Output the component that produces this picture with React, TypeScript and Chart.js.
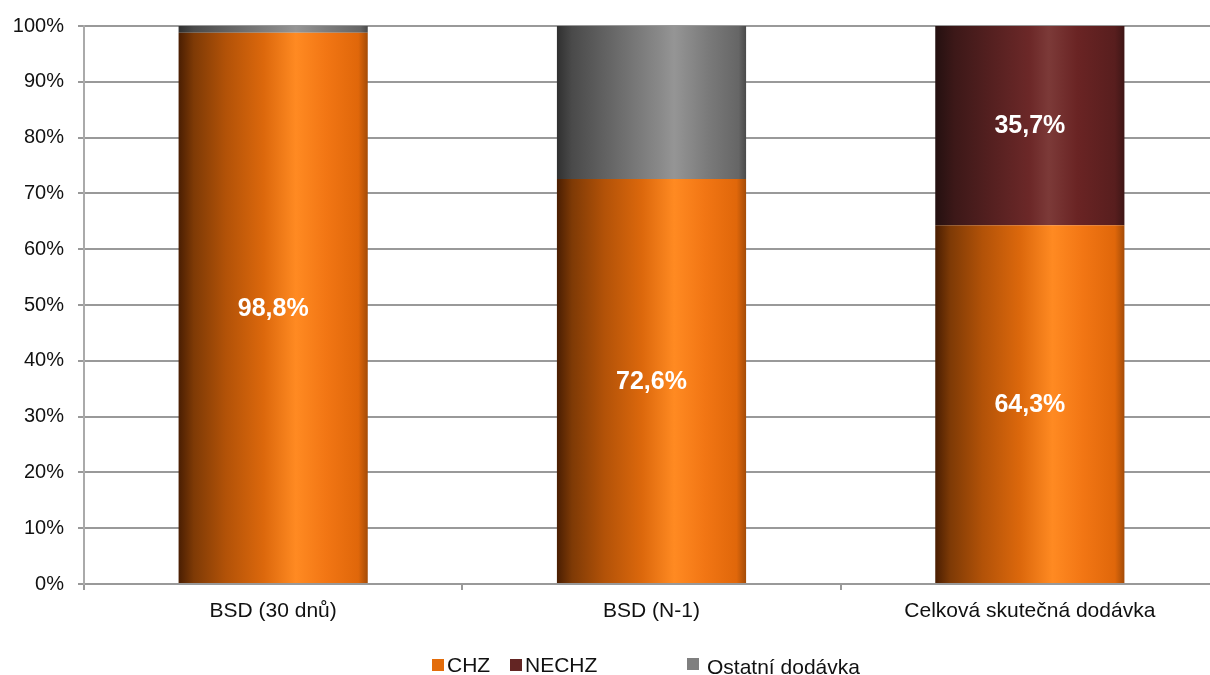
import React, { useEffect, useRef } from "react";
import { Chart, registerables } from "chart.js";

Chart.register(...registerables);

const categories = ["BSD (30 dnů)", "BSD (N-1)", "Celková skutečná dodávka"];
const chzValues = [98.8, 72.6, 64.3];
const nechzValues = [0, 0, 35.7];
const ostatniValues = [1.2, 27.4, 0];
const yTicks = [0, 10, 20, 30, 40, 50, 60, 70, 80, 90, 100];
const seriesNames = ["CHZ", "NECHZ", "Ostatní dodávka"];
const seriesColors = ["#e36c0a", "#632523", "#7f7f7f"];

const FONT = "'Liberation Sans', Arial, sans-serif";

const gradientStops: [number, string][][] = [
  [
    [0, "#4a1e02"],
    [0.08, "#7e3a06"],
    [0.25, "#b25208"],
    [0.45, "#dc680c"],
    [0.62, "#ff8a22"],
    [0.78, "#f27614"],
    [0.95, "#e0670a"],
    [1, "#a44c08"],
  ],
  [
    [0, "#241010"],
    [0.1, "#3c1818"],
    [0.3, "#552020"],
    [0.5, "#6c2828"],
    [0.6, "#7c3a38"],
    [0.75, "#6a2424"],
    [0.95, "#581e1e"],
    [1, "#3e1616"],
  ],
  [
    [0, "#303030"],
    [0.08, "#4a4a4a"],
    [0.3, "#686868"],
    [0.55, "#8a8a8a"],
    [0.62, "#959595"],
    [0.8, "#7a7a7a"],
    [0.96, "#666666"],
    [1, "#4a4a4a"],
  ],
];

const BAR_FRACTION = 0.5;

function makeGradientFill(seriesIndex: number) {
  return (ctx: any) => {
    const chart = ctx.chart;
    const area = chart.chartArea;
    const xs = chart.scales?.x;
    if (!area || !xs || ctx.dataIndex === undefined) return seriesColors[seriesIndex];
    const cx = xs.getPixelForValue(ctx.dataIndex);
    const w = ((area.right - area.left) / categories.length) * BAR_FRACTION;
    if (!Number.isFinite(cx) || !Number.isFinite(w) || w <= 0) return seriesColors[seriesIndex];
    const g = chart.ctx.createLinearGradient(cx - w / 2, 0, cx + w / 2, 0);
    for (const [o, c] of gradientStops[seriesIndex]) g.addColorStop(o, c);
    return g;
  };
}

const dataLabelPlugin = {
  id: "dataLabels",
  afterDatasetsDraw(chart: any) {
    const ctx = chart.ctx;
    ctx.save();
    ctx.font = `bold 25px ${FONT}`;
    ctx.fillStyle = "#ffffff";
    ctx.textAlign = "center";
    ctx.textBaseline = "middle";
    [0, 1].forEach((di) => {
      const meta = chart.getDatasetMeta(di);
      const values = chart.data.datasets[di].data as number[];
      meta.data.forEach((el: any, i: number) => {
        const v = values[i];
        if (!v || v < 5) return;
        const p = el.getCenterPoint();
        ctx.fillText(v.toFixed(1).replace(".", ",") + "%", p.x, p.y + 1);
      });
    });
    ctx.restore();
  },
};

const legendPlugin = {
  id: "customLegend",
  afterDraw(chart: any) {
    const ctx = chart.ctx;
    const positions = [432, 510, 687];
    const boxTops = [659, 659, 658];
    ctx.save();
    ctx.font = `21px ${FONT}`;
    ctx.textBaseline = "middle";
    ctx.textAlign = "left";
    seriesNames.forEach((name, i) => {
      ctx.fillStyle = seriesColors[i];
      ctx.fillRect(positions[i], boxTops[i], 12, 12);
      ctx.fillStyle = "#111111";
      ctx.fillText(name, positions[i] + (i === 2 ? 20 : 15), 666 + (i === 2 ? 2 : 0));
    });
    ctx.restore();
  },
};

export default function App() {
  const canvasRef = useRef<HTMLCanvasElement | null>(null);

  useEffect(() => {
    if (!canvasRef.current) return;
    const chart = new Chart(canvasRef.current, {
      type: "bar",
      data: {
        labels: categories,
        datasets: [
          { label: seriesNames[0], data: chzValues, backgroundColor: makeGradientFill(0), borderWidth: 0 },
          { label: seriesNames[1], data: nechzValues, backgroundColor: makeGradientFill(1), borderWidth: 0 },
          { label: seriesNames[2], data: ostatniValues, backgroundColor: makeGradientFill(2), borderWidth: 0 },
        ],
      },
      options: {
        responsive: false,
        animation: false,
        devicePixelRatio: 1,
        layout: { padding: { top: 23, left: 0, right: 0, bottom: 0 } },
        datasets: {
          bar: { categoryPercentage: 1, barPercentage: BAR_FRACTION },
        },
        plugins: {
          legend: { display: false },
          tooltip: { enabled: false },
        },
        scales: {
          x: {
            stacked: true,
            offset: true,
            grid: {
              offset: true,
              drawOnChartArea: false,
              drawTicks: true,
              tickLength: 6,
              color: "#999999",
              lineWidth: 2,
            },
            border: { display: true, color: "#999999", width: 2 },
            ticks: {
              color: "#111111",
              font: { family: FONT, size: 21 },
              padding: 9,
              maxRotation: 0,
              autoSkip: false,
            },
            afterFit: (scale: any) => {
              scale.height = 91;
            },
          },
          y: {
            stacked: true,
            min: 0,
            max: 100,
            afterBuildTicks: (scale: any) => {
              scale.ticks = yTicks.map((v) => ({ value: v }));
            },
            grid: {
              color: "#999999",
              lineWidth: 2,
              tickLength: 6,
              drawTicks: true,
            },
            border: { display: true, color: "#aaaaaa", width: 2 },
            ticks: {
              color: "#111111",
              font: { family: FONT, size: 20 },
              padding: 14,
              callback: (v: any) => `${v}%`,
            },
            afterFit: (scale: any) => {
              scale.width = 84;
            },
          },
        },
      },
      plugins: [dataLabelPlugin, legendPlugin],
    });
    return () => chart.destroy();
  }, []);

  return (
    <div
      style={{
        position: "fixed",
        left: 0,
        top: 0,
        width: 1210,
        height: 675,
        overflow: "hidden",
        background: "#ffffff",
      }}
    >
      <canvas ref={canvasRef} width={1219} height={675} />
    </div>
  );
}
